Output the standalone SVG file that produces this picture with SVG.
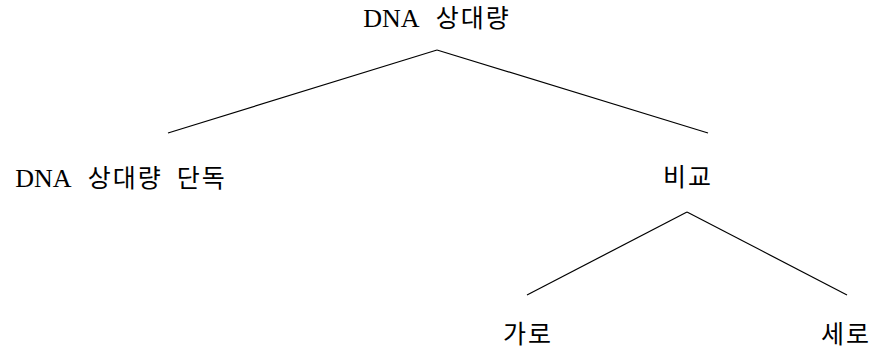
<svg xmlns="http://www.w3.org/2000/svg" width="875" height="350" viewBox="0 0 875 350">
<style>
text{font-family:"Liberation Serif","Noto Sans CJK KR",serif;font-size:26px;fill:#000;text-anchor:middle}
.k{font-size:25px;letter-spacing:2px}
.e{stroke:#000;stroke-width:1.2;fill:none}
</style>
<rect width="875" height="350" fill="#fff"/>
<g id="connectors">
<line class="e" x1="437" y1="50" x2="168" y2="133"/>
<line class="e" x1="437" y1="50" x2="708" y2="133"/>
<line class="e" x1="687" y1="212" x2="527" y2="295"/>
<line class="e" x1="687" y1="212" x2="847" y2="295"/>
</g>
<g id="root"><text x="437" y="27">DNA<tspan class="k" dx="16">상대량</tspan></text></g>
<g id="alone"><text x="121" y="187">DNA<tspan class="k" dx="16">상대량</tspan><tspan class="k" dx="14">단독</tspan></text></g>
<g id="compare"><text class="k" x="688" y="186">비교</text></g>
<g id="horizontal"><text class="k" x="528" y="343">가로</text></g>
<g id="vertical"><text class="k" x="846" y="343">세로</text></g>
</svg>
